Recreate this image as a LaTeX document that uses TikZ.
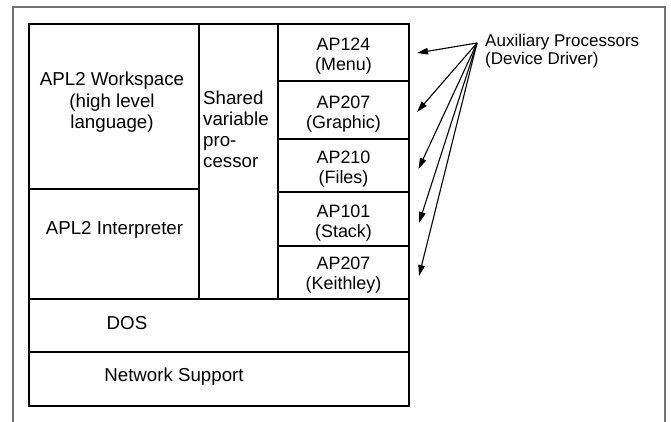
\documentclass[tikz,border=0pt]{standalone}
\usepackage{fontspec}
\setmainfont{Liberation Sans}
\usetikzlibrary{arrows.meta}
\begin{document}
\begin{tikzpicture}[x=1pt,y=-1pt,
  cell/.style={draw=black,line width=1.6pt,anchor=north west,inner sep=0pt,outer sep=0pt},
  txt/.style={inner sep=0pt,align=center,font=\fontsize{18.7}{21.5}\selectfont},
  aptxt/.style={inner sep=0pt,align=center,font=\fontsize{17.9}{20}\selectfont},
  auxtxt/.style={inner sep=0pt,align=left,anchor=north west,font=\fontsize{17}{18}\selectfont},
  arr/.style={line width=1.1pt,-{Triangle[length=11pt,width=6.5pt]}},
  frame/.style={draw=black!55,line width=1.3pt}]
\useasboundingbox (0,0) rectangle (671,422);
% outer frame (open at bottom)
\draw[frame] (13,422) -- (13,7) -- (665,7) -- (665,422);
% cells
\node[cell,minimum width=170pt,minimum height=165pt] (ws) at (29,24) {};
\node[cell,minimum width=170pt,minimum height=110pt] (interp) at (29,189) {};
\node[cell,minimum width=79pt,minimum height=275pt] (svp) at (199,24) {};
\node[cell,minimum width=131pt,minimum height=57pt] (ap1) at (278,24) {};
\node[cell,minimum width=131pt,minimum height=58pt] (ap2) at (278,81) {};
\node[cell,minimum width=131pt,minimum height=53pt] (ap3) at (278,139) {};
\node[cell,minimum width=131pt,minimum height=54pt] (ap4) at (278,192) {};
\node[cell,minimum width=131pt,minimum height=53pt] (ap5) at (278,246) {};
\node[cell,minimum width=380pt,minimum height=53pt] (dos) at (29,299) {};
\node[cell,minimum width=380pt,minimum height=54pt] (net) at (29,352) {};
\draw[line width=2pt] (29,24) rectangle (409,406);
% texts
\node[txt] (wst) at (112,102.4) {APL2 Workspace\\(high level\\language)};
\node[txt] (interpt) at (114.5,229.5) {APL2 Interpreter};
\node[txt,align=left,anchor=north west,font=\fontsize{18.7}{21}\selectfont] (svpt) at (203,90.5) {Shared\\variable\\pro-\\cessor};
\node[aptxt] (ap1t) at ([yshift=-4pt]ap1.center) {AP124\\(Menu)};
\node[aptxt] (ap2t) at ([yshift=-4pt]ap2.center) {AP207\\(Graphic)};
\node[aptxt] (ap3t) at ([yshift=-4pt]ap3.center) {AP210\\(Files)};
\node[aptxt] (ap4t) at ([yshift=-4pt]ap4.center) {AP101\\(Stack)};
\node[aptxt] (ap5t) at ([yshift=-3pt]ap5.center) {AP207\\(Keithley)};
\node[txt] (dost) at (127,323) {DOS};
\node[txt] (nett) at (174,377) {Network Support};
% annotation
\node[auxtxt] (aux) at (485,34) {Auxiliary Processors\\(Device Driver)};
\coordinate (src) at (477,43);
\coordinate (t1) at (417,53);
\coordinate (t2) at (417,112);
\coordinate (t3) at (418.5,169);
\coordinate (t4) at (419,223);
\coordinate (t5) at (419,276);
\draw[arr] (src) -- (t1);
\draw[arr] (src) -- (t2);
\draw[arr] (src) -- (t3);
\draw[arr] (src) -- (t4);
\draw[arr] (src) -- (t5);
\end{tikzpicture}
\end{document}
